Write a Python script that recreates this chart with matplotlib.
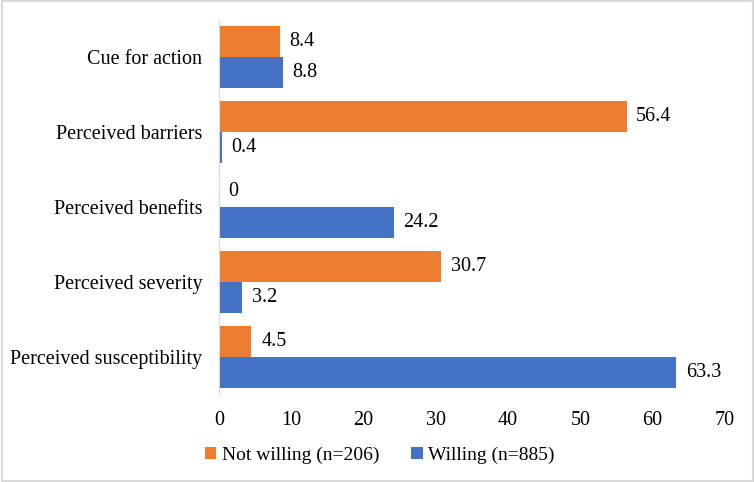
import numpy as np
import matplotlib.pyplot as plt

plt.rcParams['font.family'] = ['Liberation Serif', 'DejaVu Serif']

categories = ["Cue for action", "Perceived barriers", "Perceived benefits",
              "Perceived severity", "Perceived susceptibility"]
not_willing = [8.4, 56.4, 0, 30.7, 4.5]
willing = [8.8, 0.4, 24.2, 3.2, 63.3]

orange = "#ED7D31"
blue = "#4472C4"
fs = 14.5

fig = plt.figure(figsize=(7.55, 4.82), dpi=100)
ax = fig.add_axes([0.290, 0.182, 0.670, 0.778])

y = np.arange(len(categories))[::-1]
h = 0.415
b1 = ax.barh(y + h / 2, not_willing, height=h, color=orange, label="Not willing (n=206)")
b2 = ax.barh(y - h / 2, willing, height=h, color=blue, label="Willing (n=885)")

for bars, vals in [(b1, not_willing), (b2, willing)]:
    for bar, v in zip(bars, vals):
        ax.annotate(f"{v:g}", (v, bar.get_y() + bar.get_height() / 2),
                    xytext=(7, 0), textcoords="offset points",
                    va="center", ha="left", fontsize=fs)

ax.set_xlim(0, 70)
ax.set_ylim(-0.5, len(categories) - 0.5)
ax.set_xticks(range(0, 71, 10))
ax.set_yticks(y)
ax.set_yticklabels(categories)
ax.tick_params(axis="both", length=0, labelsize=fs)
ax.tick_params(axis="x", pad=12)
ax.tick_params(axis="y", pad=12)
for s in ["top", "right", "bottom"]:
    ax.spines[s].set_visible(False)
ax.spines["left"].set_color("#d9d9d9")

ax.legend(loc="center", bbox_to_anchor=(0.318, -0.163), ncol=2, frameon=False,
          fontsize=14, handlelength=0.6, handleheight=0.6, handletextpad=0.3,
          columnspacing=1.6)

fig.patches.append(plt.Rectangle((0.002, 0.003), 0.996, 0.994, transform=fig.transFigure,
                                 fill=False, edgecolor="#d9d9d9", linewidth=1.5))

fig.savefig("out.png", dpi=100)
